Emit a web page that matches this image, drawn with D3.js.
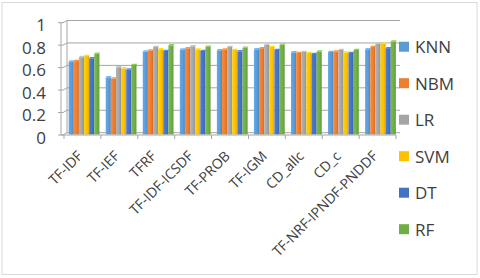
<!DOCTYPE html>
<meta charset="utf-8">
<html>
<head>
<title>term weighting</title>
<script src="https://d3js.org/d3.v7.min.js"></script>
<style>
  body { margin: 0; background: #fff; }
  text { font-family: "Open Sans", sans-serif; fill: #404040; }
</style>
</head>
<body>
<div id="chart"></div>
<script>
/* data */
var categories = ["TF-IDF", "TF-IEF", "TFRF", "TF-IDF-ICSDF", "TF-PROB", "TF-IGM", "CD_allc", "CD_c", "TF-NRF-IPNDF-PNDDF"];
var seriesNames = ["KNN", "NBM", "LR", "SVM", "DT", "RF"];
var KNN = [0.65, 0.51, 0.74, 0.757, 0.751, 0.76, 0.733, 0.736, 0.76];
var NBM = [0.655, 0.50, 0.75, 0.769, 0.757, 0.77, 0.727, 0.739, 0.78];
var LR  = [0.69, 0.60, 0.78, 0.787, 0.78, 0.80, 0.736, 0.754, 0.81];
var SVM = [0.70, 0.59, 0.76, 0.757, 0.754, 0.78, 0.727, 0.73, 0.81];
var DT  = [0.68, 0.58, 0.745, 0.745, 0.742, 0.754, 0.718, 0.727, 0.77];
var RF  = [0.72, 0.62, 0.795, 0.783, 0.774, 0.80, 0.739, 0.754, 0.83];
var yTicks = [0, 0.2, 0.4, 0.6, 0.8, 1];
var colors = ["#5B9BD5", "#ED7D31", "#A5A5A5", "#FFC000", "#4472C4", "#70AD47"];

var values = [KNN, NBM, LR, SVM, DT, RF];
var rows = [];
categories.forEach(function(c, i) {
  seriesNames.forEach(function(s, j) {
    rows.push({cat: c, series: s, value: values[j][i], idx: j});
  });
});

/* layout */
var W = 480, H = 278;
var svg = d3.select("#chart").append("svg")
  .attr("width", W).attr("height", H);

svg.append("rect")
  .attr("x", 2).attr("y", 2.5).attr("width", 475).attr("height", 272)
  .attr("fill", "#fff").attr("stroke", "#D9D9D9");

/* 3d-ish frame: front axis and back wall */
var yFront = d3.scaleLinear().domain([0, 1]).range([135, 22.7]);
var yBack = d3.scaleLinear().domain([0, 1]).range([132.7, 20.5]);
var yBar = d3.scaleLinear().domain([0, 1]).range([134.5, 22.4]);
var axisX = 61, wallX0 = 67, wallX1 = 400;

var frame = svg.append("g").attr("stroke", "#A6A6A6").attr("fill", "none");
yTicks.forEach(function(t) {
  frame.append("line")
    .attr("x1", wallX0).attr("x2", wallX1)
    .attr("y1", yBack(t)).attr("y2", yBack(t));
  frame.append("polyline")
    .attr("points", [[axisX - 3, yFront(t)], [axisX + 2, yFront(t)], [wallX0, yBack(t)]].join(" "));
});
frame.append("line")
  .attr("x1", axisX).attr("x2", axisX)
  .attr("y1", yFront(0)).attr("y2", yFront(1));
frame.append("line")
  .attr("x1", wallX0).attr("x2", wallX0)
  .attr("y1", yBack(0)).attr("y2", yBack(1));

/* y labels */
svg.append("g").selectAll("text")
  .data(yTicks)
  .enter().append("text")
  .attr("x", 46)
  .attr("y", function(d) { return yFront(d) + 2; })
  .attr("text-anchor", "end")
  .attr("dominant-baseline", "central")
  .style("font-size", "17px")
  .text(function(d) { return d3.format("~g")(d); });

/* bars */
var x0 = d3.scaleBand().domain(categories).range([65.5, 399])
  .paddingInner(0.17).paddingOuter(0.085);
var x1 = d3.scaleBand().domain(seriesNames).range([0, x0.bandwidth()]);

var defs = svg.append("defs");
colors.forEach(function(c, i) {
  var g = defs.append("linearGradient").attr("id", "g" + i)
    .attr("x1", "0").attr("x2", "1").attr("y1", "0").attr("y2", "0");
  g.append("stop").attr("offset", "0").attr("stop-color", d3.color(c).brighter(0.25));
  g.append("stop").attr("offset", "0.6").attr("stop-color", c);
  g.append("stop").attr("offset", "1").attr("stop-color", d3.color(c).darker(0.35));
});

var bars = svg.append("g");
bars.selectAll("rect.bar")
  .data(rows)
  .enter().append("rect")
  .attr("class", "bar")
  .attr("x", function(d) { return x0(d.cat) + x1(d.series); })
  .attr("y", function(d) { return yBar(d.value); })
  .attr("width", x1.bandwidth())
  .attr("height", function(d) { return yBar(0) - yBar(d.value); })
  .attr("fill", function(d) { return "url(#g" + d.idx + ")"; });

// small top cap for the 3d look
bars.selectAll("path.cap")
  .data(rows)
  .enter().append("path")
  .attr("class", "cap")
  .attr("d", function(d) {
    var x = x0(d.cat) + x1(d.series), y = yBar(d.value), w = x1.bandwidth();
    return "M" + x + "," + y + "L" + (x + 1) + "," + (y - 1.3) + "L" + (x + w + 1) + "," + (y - 1.3) + "L" + (x + w) + "," + y + "Z";
  })
  .attr("fill", function(d) { return d3.color(colors[d.idx]).brighter(0.5); });

/* x axis (front) */
var xAxisG = svg.append("g").attr("stroke", "#A6A6A6");
xAxisG.append("line")
  .attr("x1", axisX).attr("x2", 396)
  .attr("y1", yFront(0)).attr("y2", yFront(0));
var sepX = d3.scaleLinear().domain([0, categories.length]).range([64, 396]);
d3.range(categories.length + 1).forEach(function(i) {
  xAxisG.append("line")
    .attr("x1", sepX(i)).attr("x2", sepX(i))
    .attr("y1", yFront(0)).attr("y2", yFront(0) + 4);
});

svg.append("g").selectAll("text")
  .data(categories)
  .enter().append("text")
  .attr("transform", function(d, i) {
    return "translate(" + (sepX(i + 0.5) + 1) + ",157) rotate(-45)";
  })
  .attr("text-anchor", "end")
  .style("font-size", "14px")
  .text(function(d) { return d; });

/* legend */
var legend = svg.append("g").selectAll("g")
  .data(seriesNames)
  .enter().append("g")
  .attr("transform", function(d, i) { return "translate(399," + (46.7 + i * 36.5) + ")"; });
legend.append("rect")
  .attr("x", 0).attr("y", -5).attr("width", 10).attr("height", 10)
  .attr("fill", function(d, i) { return colors[i]; });
legend.append("text")
  .attr("x", 16).attr("y", 0)
  .attr("dominant-baseline", "central")
  .style("font-size", "17px")
  .text(function(d) { return d; });
</script>
</body>
</html>
